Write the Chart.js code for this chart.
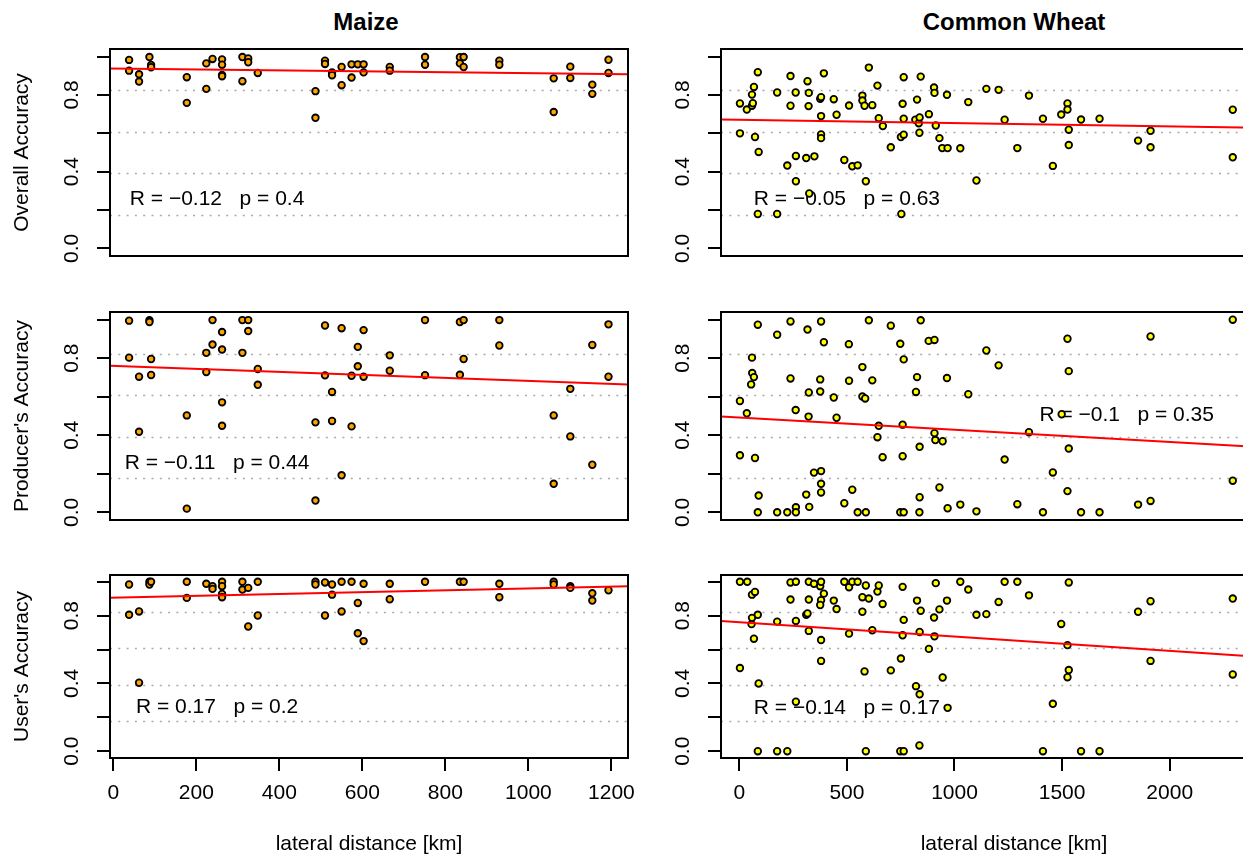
<!DOCTYPE html>
<html>
<head>
<meta charset="utf-8">
<script src="https://cdn.jsdelivr.net/npm/chart.js@4/dist/chart.umd.min.js"></script>
<style>
  html, body { margin: 0; padding: 0; background: #fff; overflow: hidden; width: 1243px; height: 860px; position: relative; }
  canvas { position: absolute; }
  .title { position: absolute; top: 8px; font: bold 24px "Liberation Sans", Arial, sans-serif; transform: translateX(-50%); white-space: nowrap; color: #000; }
</style>
</head>
<body>
<div class="title" style="left:366px">Maize</div>
<div class="title" style="left:1014px">Common Wheat</div>
<canvas id="p0"></canvas>
<canvas id="p1"></canvas>
<canvas id="p2"></canvas>
<canvas id="p3"></canvas>
<canvas id="p4"></canvas>
<canvas id="p5"></canvas>
<script>
// panel data: [lateral distance km, accuracy]
const maizeOA = [[38,0.983],[38,0.927],[62,0.908],[62,0.870],[87,0.998],[91,0.957],[91,0.945],[177,0.893],[177,0.759],[224,0.965],[224,0.832],[239,0.988],[262,0.986],[262,0.958],[262,0.905],[262,0.898],[311,0.998],[311,0.872],[325,0.991],[325,0.971],[348,0.915],[487,0.820],[487,0.681],[510,0.979],[510,0.962],[527,0.918],[527,0.903],[550,0.946],[550,0.851],[574,0.960],[574,0.891],[589,0.960],[603,0.960],[603,0.918],[666,0.946],[666,0.927],[751,0.998],[751,0.958],[835,0.997],[835,0.965],[844,0.998],[844,0.946],[930,0.979],[930,0.958],[1061,0.887],[1061,0.711],[1101,0.948],[1101,0.889],[1154,0.854],[1154,0.806],[1193,0.984],[1193,0.915]];
const maizePA = [[38,0.995],[38,0.803],[62,0.704],[62,0.418],[87,0.997],[87,0.988],[91,0.796],[91,0.713],[177,0.503],[177,0.019],[224,0.828],[224,0.728],[239,0.998],[239,0.871],[262,0.936],[262,0.845],[262,0.571],[262,0.449],[311,0.998],[311,0.828],[325,0.998],[325,0.941],[348,0.744],[348,0.662],[487,0.467],[487,0.061],[510,0.970],[510,0.711],[527,0.625],[527,0.474],[550,0.956],[550,0.192],[574,0.709],[574,0.446],[589,0.859],[589,0.758],[603,0.946],[603,0.704],[666,0.815],[666,0.735],[751,0.998],[751,0.712],[835,0.988],[835,0.714],[844,0.998],[844,0.796],[930,0.998],[930,0.866],[1061,0.503],[1061,0.148],[1101,0.641],[1101,0.394],[1154,0.869],[1154,0.247],[1193,0.976],[1193,0.704]];
const maizeUA = [[38,0.984],[38,0.805],[62,0.825],[62,0.404],[87,1.0],[87,0.984],[91,1.0],[177,1.0],[177,0.905],[224,0.988],[239,0.974],[239,0.958],[262,1.0],[262,0.974],[262,0.928],[262,0.909],[311,1.0],[311,0.954],[325,0.964],[325,0.736],[348,1.0],[348,0.801],[487,1.0],[487,0.984],[510,0.996],[510,0.801],[527,0.984],[527,0.924],[550,1.0],[550,0.825],[574,1.0],[589,0.875],[589,0.696],[603,0.988],[603,0.650],[666,0.988],[666,0.897],[751,1.0],[835,1.0],[844,1.0],[930,0.988],[930,0.909],[1061,1.0],[1061,0.984],[1101,0.974],[1101,0.964],[1154,0.932],[1154,0.889],[1193,0.950]];

const wheatOA = [[3,0.756],[3,0.600],[35,0.724],[59,0.744],[63,0.757],[59,0.802],[68,0.842],[86,0.919],[73,0.581],[90,0.503],[86,0.179],[176,0.813],[176,0.179],[223,0.432],[238,0.899],[238,0.744],[262,0.813],[263,0.482],[263,0.350],[311,0.471],[317,0.872],[323,0.811],[322,0.742],[325,0.286],[349,0.480],[376,0.780],[380,0.789],[380,0.690],[380,0.594],[380,0.575],[393,0.913],[439,0.778],[452,0.697],[488,0.461],[510,0.745],[525,0.428],[550,0.433],[572,0.797],[572,0.771],[582,0.744],[588,0.350],[602,0.943],[618,0.747],[642,0.849],[648,0.679],[667,0.638],[704,0.527],[751,0.581],[753,0.179],[759,0.754],[764,0.893],[764,0.676],[764,0.593],[818,0.671],[826,0.776],[834,0.653],[838,0.683],[837,0.603],[843,0.896],[881,0.700],[905,0.839],[907,0.811],[913,0.641],[930,0.575],[943,0.523],[968,0.523],[965,0.801],[1027,0.522],[1064,0.763],[1102,0.354],[1148,0.832],[1205,0.827],[1233,0.671],[1292,0.523],[1346,0.797],[1411,0.676],[1457,0.430],[1496,0.698],[1525,0.756],[1525,0.724],[1531,0.619],[1531,0.539],[1588,0.672],[1674,0.676],[1853,0.562],[1911,0.613],[1911,0.527],[2293,0.723],[2293,0.475]];
const wheatPA = [[3,0.578],[3,0.296],[35,0.514],[55,0.664],[60,0.723],[68,0.702],[59,0.803],[73,0.282],[86,0.974],[90,0.087],[86,0.0],[176,0.922],[176,0.0],[223,0.0],[238,0.991],[238,0.695],[262,0.531],[263,0.026],[263,0.0],[311,0.092],[317,0.949],[323,0.622],[322,0.497],[325,0.028],[347,0.206],[376,0.690],[376,0.627],[380,0.991],[380,0.214],[380,0.148],[380,0.103],[393,0.883],[439,0.596],[452,0.491],[488,0.047],[509,0.873],[510,0.683],[525,0.117],[550,0.0],[572,0.754],[572,0.601],[585,0.591],[588,0.0],[602,0.997],[618,0.685],[642,0.390],[648,0.449],[666,0.286],[704,0.969],[748,0.875],[748,0.0],[759,0.291],[759,0.455],[764,0.794],[764,0.0],[821,0.625],[826,0.702],[838,0.340],[838,0.078],[837,0.0],[843,0.997],[880,0.890],[907,0.895],[907,0.411],[911,0.375],[945,0.369],[930,0.129],[965,0.697],[968,0.021],[1027,0.040],[1064,0.613],[1102,0.005],[1148,0.840],[1205,0.763],[1233,0.274],[1292,0.042],[1346,0.416],[1411,0.0],[1457,0.207],[1498,0.509],[1525,0.901],[1525,0.110],[1531,0.733],[1531,0.331],[1588,0.0],[1674,0.0],[1853,0.040],[1911,0.913],[1911,0.059],[2293,1.0],[2293,0.164]];
const wheatUA = [[3,1.0],[37,1.0],[3,0.491],[59,0.924],[73,0.940],[59,0.787],[57,0.750],[86,0.805],[68,0.664],[90,0.400],[86,0.0],[176,0.765],[176,0.0],[223,0.0],[238,0.996],[238,0.895],[263,1.0],[263,0.769],[263,0.292],[311,0.805],[317,0.813],[323,1.0],[323,0.895],[323,0.710],[347,0.988],[376,0.974],[380,1.0],[380,0.891],[376,0.863],[380,0.656],[380,0.533],[393,0.930],[439,0.889],[452,0.839],[488,1.0],[510,0.968],[525,1.0],[550,1.0],[510,0.694],[572,0.909],[572,0.823],[588,0.978],[582,0.471],[588,0.0],[602,0.901],[618,0.714],[642,0.942],[648,0.978],[666,0.869],[704,0.477],[751,0.547],[759,0.970],[764,0.775],[759,0.684],[748,0.0],[764,0.0],[821,0.384],[826,0.889],[838,0.336],[837,0.034],[843,0.829],[838,0.704],[881,0.604],[905,0.789],[907,0.678],[913,0.992],[930,0.837],[945,0.435],[965,0.889],[968,0.256],[1027,1.0],[1064,0.954],[1102,0.805],[1148,0.809],[1205,0.881],[1233,1.0],[1292,1.0],[1346,0.920],[1411,0.0],[1457,0.280],[1496,0.751],[1525,0.626],[1531,0.996],[1531,0.479],[1525,0.437],[1588,0.0],[1674,0.0],[1853,0.823],[1911,0.885],[1911,0.533],[2293,0.901],[2293,0.453]];

// linear fits (intercept, slope per km) for OA, PA, UA
const maizeFitA = [0.9378, 0.7603, 0.9055];
const maizeFitB = [-0.000024, -0.0000777, 0.0000553];
const wheatFitA = [0.6705, 0.4915, 0.7616];
const wheatFitB = [-0.0000173, -0.0000633, -0.0000847];

// correlation labels and where they sit (data coords)
const maizeLabels = ["R = \u22120.12   p = 0.4", "R = \u22120.11   p = 0.44", "R = 0.17   p = 0.2"];
const wheatLabels = ["R = \u22120.05   p = 0.63", "R = \u22120.1   p = 0.35", "R = \u22120.14   p = 0.17"];
const maizeLabelPos = [[250, 0.255], [250, 0.253], [250, 0.26]];
const wheatLabelPos = [[500, 0.258], [1800, 0.503], [500, 0.255]];

const rowTitles = ["Overall Accuracy", "Producer's Accuracy", "User's Accuracy"];
const yTicks = [0, 0.2, 0.4, 0.6, 0.8, 1.0];
const yTickLabels = { "0": "0.0", "0.4": "0.4", "0.8": "0.8" };
const maizeXTicks = [0, 200, 400, 600, 800, 1000, 1200];
const wheatXTicks = [0, 500, 1000, 1500, 2000];
const gridLevels = [0.176, 0.392, 0.608, 0.824];

const FONT = '"Liberation Sans", Arial, sans-serif';
Chart.defaults.font.family = FONT;
Chart.defaults.color = "#000";

// panel boxes in page pixels
const rowBox = [[49, 256], [312, 520], [575, 758]];
const colBox = [[110, 628], [721, 1307]];
const xRange = [[-8, 1240], [-85, 2638]];
const AXW = 110;

// grid, label, box around plot region
const panelDecor = {
  id: "panelDecor",
  beforeDatasetsDraw(chart, args, opts) {
    const { ctx, chartArea: a, scales: { x, y } } = chart;
    ctx.save();
    ctx.strokeStyle = "#a9a9a9";
    ctx.lineWidth = 1.6;
    ctx.setLineDash([2, 6.3]);
    gridLevels.forEach((v) => {
      const py = Math.round(y.getPixelForValue(v)) + 0.5;
      ctx.beginPath();
      ctx.moveTo(a.left, py);
      ctx.lineTo(a.right, py);
      ctx.stroke();
    });
    ctx.setLineDash([]);
    ctx.fillStyle = "#000";
    ctx.font = "21px " + FONT;
    ctx.textAlign = "center";
    ctx.textBaseline = "middle";
    ctx.fillText(opts.text, x.getPixelForValue(opts.tx), y.getPixelForValue(opts.ty));
    ctx.restore();
  },
  afterDraw(chart) {
    const { ctx, chartArea: a } = chart;
    ctx.save();
    ctx.strokeStyle = "#000";
    ctx.lineWidth = 2;
    ctx.strokeRect(a.left, a.top, a.right - a.left, a.bottom - a.top);
    ctx.restore();
  },
};

function makePanel(id, row, col, points, fitA, fitB, label, labelPos, fill) {
  const canvas = document.getElementById(id);
  const [bl, br] = colBox[col];
  const [bt, bb] = rowBox[row];
  const bottomRow = row === 2;
  const left = bl - AXW;
  const top = bt - 10;
  const width = br - left + 10;
  const height = bottomRow ? 860 - top : bb - top + 10;
  canvas.style.left = left + "px";
  canvas.style.top = top + "px";
  canvas.width = width;
  canvas.height = height;

  const [xmin, xmax] = xRange[col];
  const fitLine = [
    { x: xmin, y: fitA + fitB * xmin },
    { x: xmax, y: fitA + fitB * xmax },
  ];
  const xTicks = col === 0 ? maizeXTicks : wheatXTicks;

  const xScale = {
    type: "linear",
    min: xmin,
    max: xmax,
    display: bottomRow,
    afterBuildTicks: (s) => { s.ticks = xTicks.map((v) => ({ value: v })); },
    grid: { drawOnChartArea: false, drawTicks: true, tickLength: 13, color: "#000", lineWidth: 2 },
    border: { display: false },
    ticks: { autoSkip: false, minRotation: 0, maxRotation: 0, padding: 10, color: "#000", font: { size: 21 }, callback: (v) => String(v) },
    title: { display: bottomRow, text: "lateral distance [km]", color: "#000", font: { size: 21 }, padding: { top: 0, bottom: 3 } },
  };
  if (bottomRow) {
    xScale.afterFit = (s) => {
      s.height = 860 - bb;
      s.paddingLeft = 0;
      s.paddingRight = 0;
    };
  }

  return new Chart(canvas, {
    type: "scatter",
    data: {
      datasets: [
        {
          data: fitLine,
          showLine: true,
          borderColor: "#ff0000",
          borderWidth: 2,
          pointRadius: 0,
          fill: false,
        },
        {
          data: points.map(([x, y]) => ({ x, y })),
          backgroundColor: fill,
          borderColor: "#000",
          borderWidth: 1.8,
          pointRadius: 3.3,
        },
      ],
    },
    options: {
      responsive: false,
      animation: false,
      devicePixelRatio: 1,
      layout: { padding: { left: 0, top: 10, right: 10, bottom: bottomRow ? 0 : 10 } },
      plugins: {
        legend: { display: false },
        tooltip: { enabled: false },
        panelDecor: { text: label, tx: labelPos[0], ty: labelPos[1] },
      },
      scales: {
        x: xScale,
        y: {
          type: "linear",
          min: -0.04,
          max: 1.04,
          afterBuildTicks: (s) => { s.ticks = yTicks.map((v) => ({ value: v })); },
          afterFit: (s) => {
            s.width = AXW;
            s.paddingTop = 0;
            s.paddingBottom = 0;
          },
          grid: { drawOnChartArea: false, drawTicks: true, tickLength: 13, color: "#000", lineWidth: 2 },
          border: { display: false },
          ticks: {
            autoSkip: false,
            minRotation: 90,
            maxRotation: 90,
            crossAlign: "center",
            padding: 10,
            color: "#000",
            font: { size: 21 },
            callback: (v) => yTickLabels[String(v)] || "",
          },
          title: { display: col === 0, text: rowTitles[row], color: "#000", font: { size: 21 }, padding: { top: 10, bottom: 0 } },
        },
      },
    },
    plugins: [panelDecor],
  });
}

const orange = "#FFA500";
const yellow = "#FFFF00";
makePanel("p0", 0, 0, maizeOA, maizeFitA[0], maizeFitB[0], maizeLabels[0], maizeLabelPos[0], orange);
makePanel("p1", 0, 1, wheatOA, wheatFitA[0], wheatFitB[0], wheatLabels[0], wheatLabelPos[0], yellow);
makePanel("p2", 1, 0, maizePA, maizeFitA[1], maizeFitB[1], maizeLabels[1], maizeLabelPos[1], orange);
makePanel("p3", 1, 1, wheatPA, wheatFitA[1], wheatFitB[1], wheatLabels[1], wheatLabelPos[1], yellow);
makePanel("p4", 2, 0, maizeUA, maizeFitA[2], maizeFitB[2], maizeLabels[2], maizeLabelPos[2], orange);
makePanel("p5", 2, 1, wheatUA, wheatFitA[2], wheatFitB[2], wheatLabels[2], wheatLabelPos[2], yellow);
</script>
</body>
</html>
